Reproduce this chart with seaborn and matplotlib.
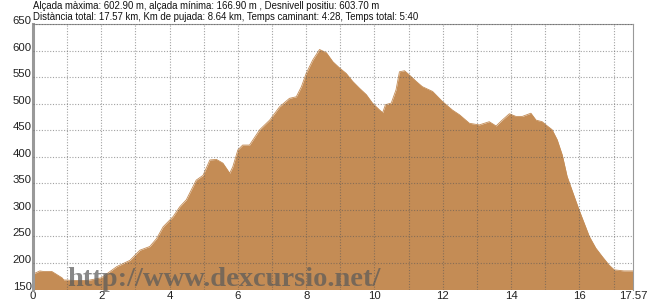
import matplotlib
matplotlib.use("Agg")
import matplotlib.pyplot as plt
import matplotlib.transforms as mtransforms
import seaborn as sns
import pandas as pd

km = [0.0, 0.2, 0.3, 0.55, 0.85, 0.9, 1.2, 1.6, 2.0, 2.45, 2.84, 3.13, 3.42, 3.62, 3.81,
      4.1, 4.3, 4.49, 4.78, 4.98, 5.18, 5.37, 5.56, 5.76, 5.85, 6.0, 6.14, 6.34, 6.64,
      6.93, 7.22, 7.51, 7.71, 7.86, 8.0, 8.19, 8.39, 8.59, 8.78, 8.98, 9.17, 9.36, 9.56,
      9.76, 9.94, 10.15, 10.24, 10.32, 10.49, 10.63, 10.73, 10.88, 11.02, 11.22, 11.4,
      11.7, 11.99, 12.28, 12.49, 12.78, 13.07, 13.36, 13.56, 13.74, 13.95, 14.14, 14.33,
      14.58, 14.73, 14.91, 15.02, 15.2, 15.35, 15.5, 15.64, 15.85, 15.99, 16.14, 16.29,
      16.48, 16.67, 16.87, 17.02, 17.3, 17.57]
elev = [179, 185, 184, 184, 172, 168, 167, 167, 172, 193, 205, 224, 231, 246, 268,
        287, 306, 319, 356, 365, 394, 395, 388, 369, 381, 413, 422, 422, 451,
        469, 494, 510, 513, 532, 557, 582, 602, 596, 579, 567, 557, 542, 529,
        517, 501, 488, 483, 498, 501, 526, 560, 562, 554, 542, 532,
        523, 504, 488, 479, 463, 460, 466, 458, 469, 481, 476, 476,
        482, 469, 466, 460, 451, 432, 403, 363, 325, 300, 275, 250,
        228, 212, 196, 187, 185, 185]

xticks = [0, 2, 4, 6, 8, 10, 12, 14, 16, 17.57]
xticklabels = ["0", "2", "4", "6", "8", "10", "12", "14", "16", "17.57"]
yticks = [150, 200, 250, 300, 350, 400, 450, 500, 550, 600, 650]
yticklabels = ["150", "200", "250", "300", "350", "400", "450", "500", "550", "600", "650"]

title1 = "Alçada màxima: 602.90 m, alçada mínima: 166.90 m , Desnivell positiu: 603.70 m"
title2 = "Distància total: 17.57 km, Km de pujada: 8.64 km, Temps caminant: 4:28, Temps total: 5:40"
watermark = "http://www.dexcursio.net/"

df = pd.DataFrame({"km": km, "elev": elev})

sns.set_style("white")
plt.rcParams["font.family"] = ["Liberation Sans", "DejaVu Sans"]

fig = plt.figure(figsize=(6.5, 3.05), dpi=100)
ax = fig.add_axes([33 / 650, 1 - 289.5 / 305, (633 - 33) / 650, (289.5 - 24) / 305])

fill_color = "#C48C55"
sns.lineplot(data=df, x="km", y="elev", ax=ax, color=fill_color, linewidth=0.6)
ax.fill_between(df["km"], df["elev"], 150, color=fill_color, zorder=2, linewidth=0)

ax.set_xlim(0, 17.57)
ax.set_ylim(150, 650)

# grid
for k in range(1, 18):
    ax.axvline(k, color="#555555", linestyle=(0, (1, 1.5)), linewidth=0.8, alpha=0.55, zorder=3)
for v in range(200, 651, 50):
    ax.axhline(v, color="#555555", linestyle=(0, (1, 1.5)), linewidth=0.8, alpha=0.55, zorder=3)

ax.set_xticks(xticks)
ax.set_xticklabels(xticklabels, fontsize=8.2, color="#222222")
ax.set_yticks(yticks)
ax.set_yticklabels(yticklabels, fontsize=8.2, color="#222222")
ax.tick_params(axis="both", length=0, pad=1)
ax.set_xlabel("")
ax.set_ylabel("")
offset = mtransforms.ScaledTranslation(0, 4 / 100, fig.dpi_scale_trans)
for lbl in ax.get_yticklabels():
    lbl.set_transform(lbl.get_transform() + offset)

for side in ["top", "right", "bottom"]:
    ax.spines[side].set_color("#999999")
    ax.spines[side].set_linewidth(0.8)
ax.spines["left"].set_color("#999999")
ax.spines["left"].set_linewidth(2.2)
ax.spines["bottom"].set_visible(False)

fig.text(33 / 650, 1 - 6 / 305, title1, fontsize=6.95, va="center", ha="left", color="#111111")
fig.text(33 / 650, 1 - 17 / 305, title2, fontsize=6.95, va="center", ha="left", color="#111111")

ax.text(1.0, 168, watermark, fontsize=20.5, fontweight="bold", family=["Liberation Serif", "DejaVu Serif"],
        color="#5a5a5a", alpha=0.72, va="center", ha="left", zorder=4)

fig.savefig("out.png", dpi=100)
